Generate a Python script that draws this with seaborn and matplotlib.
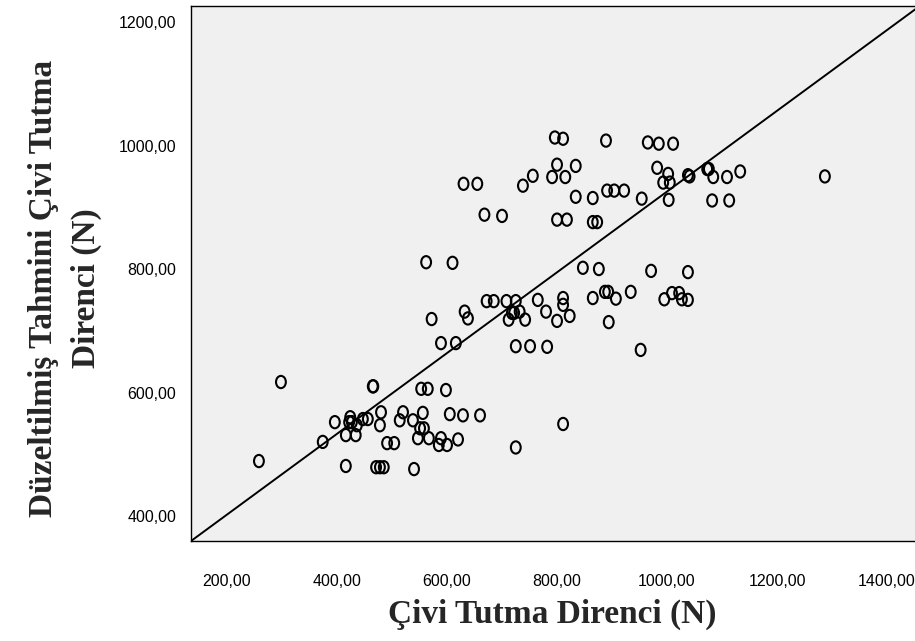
import numpy as np
import pandas as pd
import matplotlib
matplotlib.use("Agg")
import matplotlib.pyplot as plt
from matplotlib.path import Path
from matplotlib.ticker import FixedLocator, FuncFormatter
import seaborn as sns

# ---- data ----
civi_tutma = [258, 298, 374, 396, 416, 434, 416, 424, 422, 427, 436, 447, 456, 465, 466,
              471, 478, 485, 480, 478, 491, 504, 514, 520, 538, 540, 547, 567, 551, 558,
              553, 565, 556, 585, 600, 589, 598, 605, 629, 660, 620,
              562, 610, 572, 589, 616, 632, 638, 630, 655, 668, 700, 738,
              672, 685, 708, 712, 718, 722, 725, 732, 742, 725, 725, 751, 782,
              756, 765, 780, 791, 800, 796, 811, 800, 834, 800, 818, 811, 811, 823,
              811, 815, 834, 865, 847, 876, 865, 865, 873, 887, 893, 889, 891, 904,
              922, 894, 907, 934, 954, 952, 971, 965, 985, 1011, 982, 993, 1005, 1002,
              1003, 995, 1009, 1022, 1027, 1038, 1038, 1038, 1041, 1073, 1076, 1084,
              1082, 1113, 1109, 1133, 1287]
tahmini = [489, 617, 520, 552, 531, 531, 481, 560, 552, 552, 547, 557, 557, 610, 610,
           479, 479, 479, 568, 547, 518, 518, 555, 568, 555, 476, 526, 526, 542, 542,
           606, 606, 567, 515, 515, 526, 604, 565, 563, 563, 524,
           811, 810, 719, 680, 680, 731, 720, 938, 938, 888, 886, 935,
           748, 748, 748, 718, 729, 729, 748, 731, 718, 511, 675, 675, 674,
           951, 750, 731, 949, 716, 1013, 1011, 969, 967, 880, 880, 753, 742, 724,
           549, 949, 917, 915, 802, 800, 753, 876, 876, 763, 763, 1008, 927, 927,
           927, 714, 752, 763, 914, 669, 797, 1005, 1003, 1003, 964, 940, 940, 954,
           912, 751, 761, 761, 751, 750, 795, 952, 950, 962, 962, 949,
           911, 911, 949, 958, 950]

# fit line shown in the reference (SPSS total fit line)
fit_intercept = 271.5
fit_slope = 0.654

x_ticks = [200, 400, 600, 800, 1000, 1200, 1400]
y_ticks = [400, 600, 800, 1000, 1200]
x_title = "Çivi Tutma Direnci (N)"
y_title = "Düzeltilmiş Tahmini Çivi Tutma\nDirenci (N)"

df = pd.DataFrame({"x": civi_tutma, "y": tahmini})

sns.set_style("white")
plt.rcParams["font.family"] = ["Liberation Sans", "DejaVu Sans"]

W, H = 915, 641
fig = plt.figure(figsize=(W / 100, H / 100), dpi=100)
fig.patch.set_facecolor("white")
left, right, top, bottom = 191, 925, 6, 541
ax = fig.add_axes([left / W, (H - bottom) / H, (right - left) / W, (bottom - top) / H])
ax.set_facecolor("#F0F0F0")
ax.set_xlim(134.5, 1469)
ax.set_ylim(359.5, 1226)

# oval marker like SPSS "O"
circ = Path.unit_circle()
oval = Path(circ.vertices * np.array([0.8, 1.0]), circ.codes)

sns.scatterplot(data=df, x="x", y="y", ax=ax, marker=oval, s=78,
                facecolors="none", edgecolor="black", linewidth=1.5, zorder=3)

xl = np.array(ax.get_xlim())
sns.lineplot(x=xl, y=fit_intercept + fit_slope * xl, ax=ax, color="black",
             lw=1.4, zorder=4)

ax.set_xlim(134.5, 1469)
ax.set_ylim(359.5, 1226)
ax.xaxis.set_major_locator(FixedLocator(x_ticks))
ax.yaxis.set_major_locator(FixedLocator(y_ticks))
fmt = FuncFormatter(lambda v, p: f"{v:.2f}".replace(".", ","))
ax.xaxis.set_major_formatter(fmt)
ax.yaxis.set_major_formatter(fmt)
ax.tick_params(axis="both", direction="out", length=7.5, width=1.3, color="black",
               labelsize=11.5, labelcolor="black", pad=3)
ax.tick_params(axis="x", pad=16)
for s in ax.spines.values():
    s.set_color("black")
    s.set_linewidth(1.0)
ax.set_xlabel("")
ax.set_ylabel("")

serif = ["Liberation Serif", "DejaVu Serif"]
fig.text(552 / W, 1 - 614 / H, x_title, ha="center", va="center",
         fontsize=24, fontweight="bold", family=serif)
fig.text(65 / W, 1 - 288 / H, y_title, ha="center", va="center", rotation=90,
         multialignment="center", linespacing=1.45,
         fontsize=24, fontweight="bold", family=serif)

fig.savefig("out.png", dpi=100)
